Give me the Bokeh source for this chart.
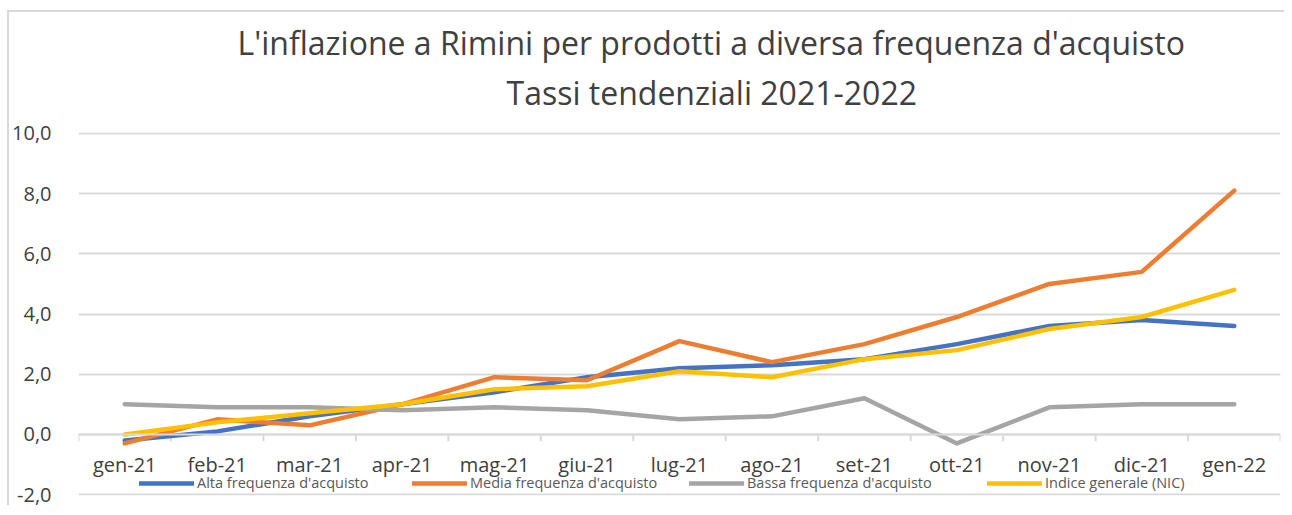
from bokeh.plotting import figure
from bokeh.models import (FactorRange, Range1d, Legend, LegendItem, Title,
                          FixedTicker, CustomJSTickFormatter)
from bokeh.embed import file_html
from bokeh.resources import INLINE

# ---- data ----
months = ["gen-21", "feb-21", "mar-21", "apr-21", "mag-21", "giu-21", "lug-21",
          "ago-21", "set-21", "ott-21", "nov-21", "dic-21", "gen-22"]
alta = [-0.2, 0.1, 0.6, 1.0, 1.4, 1.9, 2.2, 2.3, 2.5, 3.0, 3.6, 3.8, 3.6]
media = [-0.3, 0.5, 0.3, 1.0, 1.9, 1.8, 3.1, 2.4, 3.0, 3.9, 5.0, 5.4, 8.1]
bassa = [1.0, 0.9, 0.9, 0.8, 0.9, 0.8, 0.5, 0.6, 1.2, -0.3, 0.9, 1.0, 1.0]
nic = [0.0, 0.4, 0.7, 1.0, 1.5, 1.6, 2.1, 1.9, 2.5, 2.8, 3.5, 3.9, 4.8]
series_names = ["Alta frequenza d'acquisto", "Media frequenza d'acquisto",
                "Bassa frequenza d'acquisto", "Indice generale (NIC)"]
y_ticks = [-2, 0, 2, 4, 6, 8, 10]
title1 = "L'inflazione a Rimini per prodotti a diversa frequenza d'acquisto"
title2 = "Tassi tendenziali 2021-2022"

colors = ["#4472C4", "#ED7D31", "#A5A5A5", "#FFC000"]
FONT = "Open Sans"
TXT = "#404040"
GRID = "#d9d9d9"

# canvas offset by the chart-area border (left 7px, top 10px, 2px line)
OX, OY = 9, 12

p = figure(width=1292 - OX - 6, height=515 - OY - 8,
           x_range=FactorRange(*months, range_padding=0),
           y_range=Range1d(-2.03, 10.03), output_backend="svg", toolbar_location=None,
           min_border_left=76 - OX, min_border_right=6, min_border_top=132 - OY,
           min_border_bottom=12)
p.styles = {"margin-left": f"{OX}px", "margin-top": f"{OY}px",
            "box-shadow": "-2px -2px 0 0 #d9d9d9"}
p.outline_line_color = None
p.background_fill_color = "white"
p.border_fill_color = "white"

# y axis
p.yaxis.ticker = FixedTicker(ticks=y_ticks)
p.yaxis.formatter = CustomJSTickFormatter(code="return tick.toFixed(1).replace('.', ',');")
p.yaxis.axis_line_color = None
p.yaxis.major_tick_line_color = None
p.yaxis.minor_tick_line_color = None
p.yaxis.major_label_standoff = 21
p.yaxis.major_label_text_font = FONT
p.yaxis.major_label_text_font_size = "20px"
p.yaxis.major_label_text_color = TXT
p.ygrid.ticker = FixedTicker(ticks=y_ticks)
p.ygrid.grid_line_color = GRID
p.ygrid.grid_line_width = 2
p.xgrid.grid_line_color = None

# x axis at zero
p.xaxis.fixed_location = 0
p.xaxis.axis_line_color = GRID
p.xaxis.axis_line_width = 2
p.xaxis.major_tick_line_color = None
p.xaxis.major_label_standoff = 11
p.xaxis.major_label_text_font = FONT
p.xaxis.major_label_text_font_size = "20px"
p.xaxis.major_label_text_color = TXT

# boundary tick marks
bx = [(m, -0.5) for m in months] + [(months[-1], 0.5)]
p.segment(x0=bx, y0=[0] * len(bx), x1=bx, y1=[-0.23] * len(bx), line_color=GRID, line_width=2)

renderers = []
for vals, col in zip([alta, media, bassa, nic], colors):
    r = p.line(months, vals, line_color=col, line_width=4.5, line_join="round", line_cap="round")
    renderers.append(r)

# legends (one per item, positioned like the original)
leg_x = [61, 334, 611, 909]
for name, r, lx in zip(series_names, renderers, leg_x):
    lg = Legend(items=[LegendItem(label=name, renderers=[r])], location=(lx, 3),
                orientation="horizontal", padding=0, margin=0, spacing=0,
                glyph_width=55, glyph_height=14, label_height=14, label_standoff=3,
                label_text_font=FONT, label_text_font_size="14.5px", label_text_color="#595959",
                background_fill_alpha=0, border_line_alpha=0)
    p.add_layout(lg, "center")

# titles (first added sits closest to the plot)
p.add_layout(Title(text=title2, align="left", text_font=FONT, text_font_size="32px",
                   text_font_style="normal", text_color=TXT, standoff=37, offset=428), "above")
p.add_layout(Title(text=title1, align="left", text_font=FONT, text_font_size="32px",
                   text_font_style="normal", text_color=TXT, standoff=-27, offset=159), "above")

open("out.html", "w").write(file_html(p, INLINE))
